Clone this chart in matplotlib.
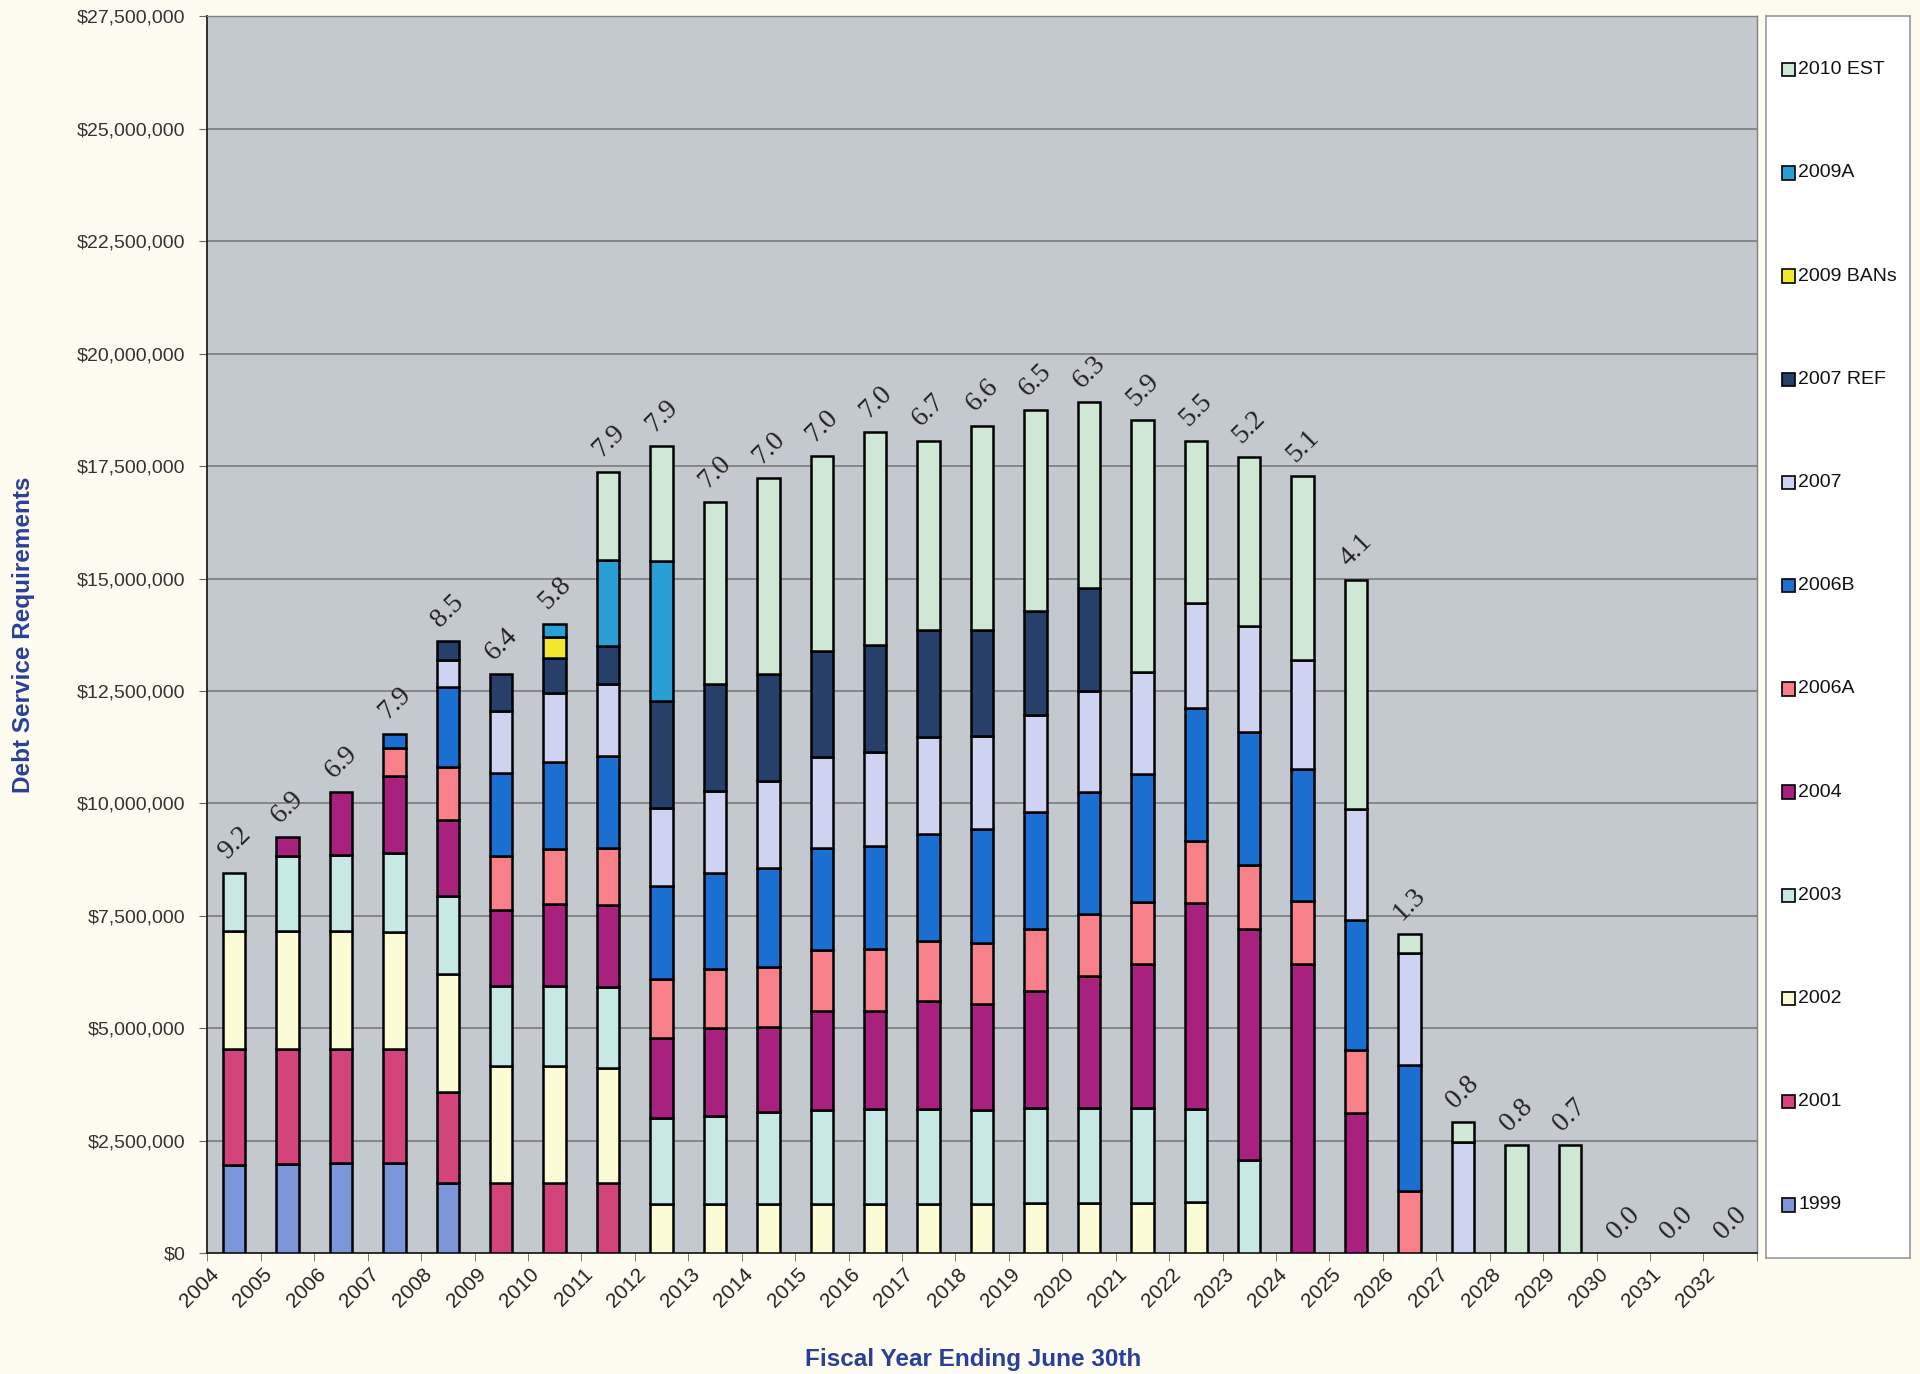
import matplotlib.pyplot as plt
import numpy as np
from matplotlib.patches import Rectangle
from matplotlib.ticker import FuncFormatter, MultipleLocator
from matplotlib.transforms import ScaledTranslation

years = [str(y) for y in range(2004, 2033)]

# annual debt service by bond issue, $ millions (2004 ... 2032)
s1999 = [1.97, 1.99, 2.00, 2.00, 1.55, 0, 0, 0, 0, 0, 0, 0, 0, 0, 0, 0, 0, 0, 0, 0, 0, 0, 0, 0, 0, 0, 0, 0, 0]
s2001 = [2.56, 2.54, 2.53, 2.53, 2.04, 1.55, 1.55, 1.55, 0, 0, 0, 0, 0, 0, 0, 0, 0, 0, 0, 0, 0, 0, 0, 0, 0, 0, 0, 0, 0]
s2002 = [2.64, 2.64, 2.64, 2.61, 2.61, 2.62, 2.60, 2.57, 1.09, 1.09, 1.09, 1.09, 1.09, 1.09, 1.09, 1.12, 1.12, 1.12, 1.14, 0, 0, 0, 0, 0, 0, 0, 0, 0, 0]
s2003 = [1.28, 1.67, 1.68, 1.75, 1.75, 1.76, 1.78, 1.79, 1.92, 1.96, 2.05, 2.09, 2.12, 2.12, 2.09, 2.10, 2.10, 2.10, 2.06, 2.08, 0, 0, 0, 0, 0, 0, 0, 0, 0]
s2004 = [0, 0.41, 1.40, 1.72, 1.69, 1.70, 1.84, 1.82, 1.77, 1.95, 1.89, 2.20, 2.17, 2.39, 2.36, 2.60, 2.94, 3.20, 4.59, 5.13, 6.42, 3.12, 0, 0, 0, 0, 0, 0, 0]
s2006a = [0, 0, 0, 0.63, 1.18, 1.19, 1.22, 1.28, 1.31, 1.31, 1.34, 1.35, 1.38, 1.35, 1.36, 1.38, 1.38, 1.38, 1.38, 1.43, 1.41, 1.39, 1.38, 0, 0, 0, 0, 0, 0]
s2006b = [0, 0, 0, 0.31, 1.78, 1.86, 1.94, 2.04, 2.08, 2.15, 2.19, 2.27, 2.30, 2.37, 2.52, 2.60, 2.72, 2.86, 2.96, 2.94, 2.93, 2.90, 2.80, 0, 0, 0, 0, 0, 0]
s2007 = [0, 0, 0, 0, 0.60, 1.38, 1.52, 1.60, 1.73, 1.82, 1.93, 2.03, 2.09, 2.15, 2.08, 2.17, 2.24, 2.27, 2.32, 2.37, 2.42, 2.46, 2.50, 2.47, 0, 0, 0, 0, 0]
s2007ref = [0, 0, 0, 0, 0.41, 0.81, 0.78, 0.86, 2.38, 2.37, 2.39, 2.37, 2.38, 2.38, 2.35, 2.31, 2.30, 0, 0, 0, 0, 0, 0, 0, 0, 0, 0, 0, 0]
s2009bans = [0, 0, 0, 0, 0, 0, 0.46, 0, 0, 0, 0, 0, 0, 0, 0, 0, 0, 0, 0, 0, 0, 0, 0, 0, 0, 0, 0, 0, 0]
s2009a = [0, 0, 0, 0, 0, 0, 0.31, 1.90, 3.10, 0, 0, 0, 0, 0, 0, 0, 0, 0, 0, 0, 0, 0, 0, 0, 0, 0, 0, 0, 0]
s2010est = [0, 0, 0, 0, 0, 0, 0, 1.97, 2.57, 4.05, 4.35, 4.33, 4.72, 4.22, 4.55, 4.47, 4.12, 5.60, 3.62, 3.75, 4.10, 5.09, 0.42, 0.45, 2.40, 2.40, 0, 0, 0]

ratio_labels = ["9.2", "6.9", "6.9", "7.9", "8.5", "6.4", "5.8", "7.9", "7.9", "7.0",
                "7.0", "7.0", "7.0", "6.7", "6.6", "6.5", "6.3", "5.9", "5.5", "5.2",
                "5.1", "4.1", "1.3", "0.8", "0.8", "0.7", "0.0", "0.0", "0.0"]

issues = ["1999", "2001", "2002", "2003", "2004", "2006A", "2006B",
          "2007", "2007 REF", "2009 BANs", "2009A", "2010 EST"]
series = [s1999, s2001, s2002, s2003, s2004, s2006a, s2006b,
          s2007, s2007ref, s2009bans, s2009a, s2010est]
colors = ["#7d95d9", "#d4447c", "#fbfbd6", "#c8e8e6", "#a8217f", "#f7808a",
          "#1b6fd0", "#cfd3f2", "#27406a", "#f2e830", "#2a9fd6", "#cfe8d6"]

BG = "#fefcf0"
LABEL_BLUE = "#2a3f9a"

fig = plt.figure(figsize=(19.2, 13.74), dpi=100, facecolor=BG)
ax = fig.add_axes([0.108, 0.088, 0.807, 0.900])
ax.set_facecolor("#c4c8cf")

x = np.arange(len(years))
bottom = np.zeros(len(years))
for name, vals, col in zip(issues, series, colors):
    v = np.array(vals) * 1e6
    m = v > 0
    ax.bar(x[m], v[m], 0.42, bottom=bottom[m], color=col,
           edgecolor="black", linewidth=1.8, zorder=3)
    bottom += v

# ratio labels above each stack
for i, lab in enumerate(ratio_labels):
    ax.text(i - 0.06, bottom[i] + 0.2e6, lab, rotation=45, rotation_mode="anchor",
            ha="left", va="bottom", fontsize=20, family="Liberation Serif",
            color="#222222", zorder=4)

ax.set_xlim(-0.5, len(years) - 0.5)
ax.set_ylim(0, 27.5e6)
ax.yaxis.set_major_locator(MultipleLocator(2.5e6))
ax.yaxis.set_major_formatter(FuncFormatter(lambda v, p: "${:,.0f}".format(v)))
ax.yaxis.grid(True, color="#7c7c7c", linewidth=1.2)
ax.set_axisbelow(True)

ax.set_xticks(x)
ax.set_xticklabels(years, rotation=45, ha="right", rotation_mode="anchor")
ax.set_xticks(np.arange(-0.5, len(years)), minor=True)
ax.tick_params(axis="x", which="major", length=0, pad=8, labelsize=15, labelcolor="#222222")
ax.tick_params(axis="x", which="minor", length=6, color="#666666", direction="out")
ax.tick_params(axis="y", length=6, color="#666666", pad=10, labelsize=14, labelcolor="#333333")
for t in ax.get_xticklabels() + ax.get_yticklabels():
    t.set_family("Liberation Sans")
# shift the slanted year labels a little to the left
shift = ScaledTranslation(-0.25, 0, fig.dpi_scale_trans)
for t in ax.get_xticklabels():
    t.set_transform(t.get_transform() + shift)

for s in ["left", "bottom"]:
    ax.spines[s].set_color("#222222")
    ax.spines[s].set_linewidth(1.3)
for s in ["top", "right"]:
    ax.spines[s].set_color("#808080")
    ax.spines[s].set_linewidth(1.0)

ax.set_ylabel("Debt Service Requirements", fontsize=17.5, fontweight="bold",
              color=LABEL_BLUE, family="Liberation Sans")
ax.yaxis.set_label_coords(-0.111, 0.5)
ax.set_xlabel("Fiscal Year Ending June 30th", fontsize=17.5, fontweight="bold",
              color=LABEL_BLUE, family="Liberation Sans")
ax.xaxis.set_label_coords(0.494, -0.077)

# legend box, newest issue on top
lax = fig.add_axes([0.9196, 0.0847, 0.0752, 0.9037])
lax.set_xlim(0, 1)
lax.set_ylim(0, 1)
lax.set_xticks([])
lax.set_yticks([])
lax.set_facecolor("white")
for s in lax.spines.values():
    s.set_color("#9a9a9a")
    s.set_linewidth(1.2)
ys = np.linspace(0.9567, 0.0424, len(issues))
for yy, name, col in zip(ys, issues[::-1], colors[::-1]):
    lax.add_patch(Rectangle((0.11, yy - 0.0054), 0.09, 0.0108, facecolor=col,
                            edgecolor="black", linewidth=1.2))
    lax.text(0.225, yy, name, va="center", ha="left", fontsize=14,
             family="Liberation Sans", color="#111111")

fig.savefig("out.png", dpi=100, facecolor=BG)
